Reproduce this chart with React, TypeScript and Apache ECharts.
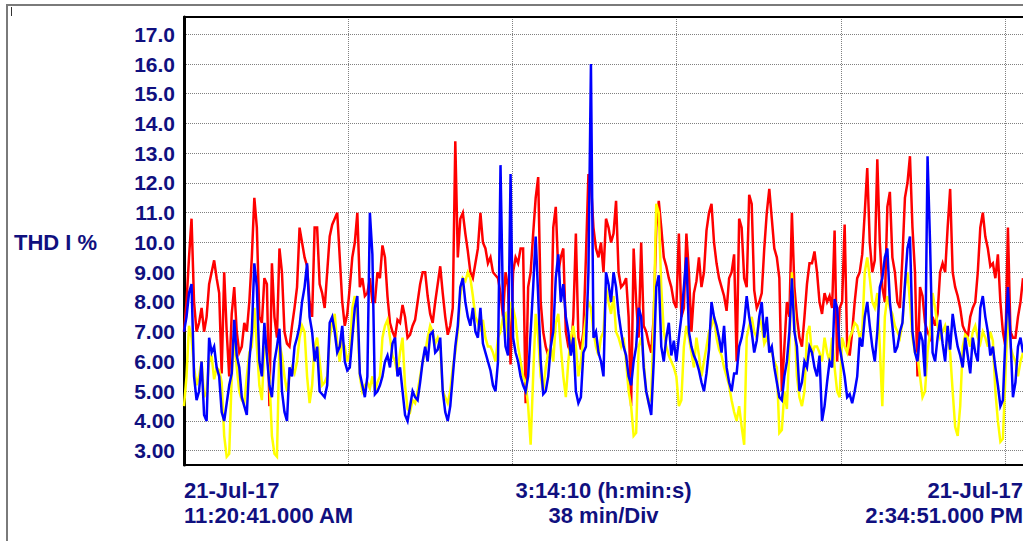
import React, { useEffect, useRef } from 'react';
import * as echarts from 'echarts';

// Time span 3:14:10 in minutes, 38 min per division
const TOTAL_MIN = 194 + 10 / 60;
const DIV_MIN = 38;

const yTicks = [3, 4, 5, 6, 7, 8, 9, 10, 11, 12, 13, 14, 15, 16, 17];
const xLabelValues = [0, TOTAL_MIN / 2, TOTAL_MIN];
const xLabelTexts = [
  '21-Jul-17\n11:20:41.000 AM',
  '3:14:10 (h:min:s)\n38 min/Div',
  '21-Jul-17\n2:34:51.000 PM',
];
const yAxisTitle = 'THD I %';

// Readings on the main sampling grid (168 samples)
const redA = [
  7.0, 9.5, 8.0, 7.3, 7.0, 8.6, 9.4, 8.3, 9.0, 5.5,
  8.5, 6.3, 7.3, 8.0, 11.5, 7.5, 8.8, 4.5, 7.5, 9.8,
  7.0, 6.5, 7.8, 10.5, 9.5, 8.0, 10.5, 8.6, 7.8, 10.2,
  10.8, 9.5, 7.2, 8.5, 10.0, 8.5, 8.2, 8.8, 8.0, 8.8,
  9.5, 7.3, 6.8, 7.3, 7.5, 6.9, 7.4, 8.6, 9.0, 7.6,
  8.0, 9.2, 7.5, 7.2, 13.4, 10.8, 10.3, 9.0, 9.3, 11.0,
  9.8, 9.5, 8.9, 8.3, 9.0, 5.9, 9.5, 9.8, 4.6, 9.0,
  11.5, 8.0, 6.5, 6.4, 11.2, 9.5, 7.0, 6.3, 10.3, 6.4,
  9.5, 12.0, 9.8, 10.0, 10.8, 10.0, 11.4, 8.5, 8.8, 4.5,
  8.0, 10.0, 7.0, 6.3, 10.5, 10.5, 9.2, 8.5, 7.8, 7.5,
  10.3, 7.0, 8.7, 8.5, 10.4, 11.3, 9.3, 8.5, 7.7, 9.0,
  6.0, 10.5, 8.5, 11.3, 7.8, 8.3, 11.0, 10.8, 9.5, 5.0,
  8.0, 11.0, 7.5, 6.5, 8.6, 9.3, 9.0, 7.6, 8.0, 7.8,
  6.0, 8.0, 6.5, 7.0, 8.8, 9.6, 12.5, 9.0, 12.8, 8.5,
  11.2, 9.5, 8.0, 9.5, 12.0, 10.5, 5.5, 8.2, 7.0, 7.5,
  7.6, 9.3, 10.5, 9.0, 8.2, 7.2, 6.8, 7.8, 9.0, 11.0,
  9.8, 9.3, 9.6, 7.0, 10.5, 6.8, 7.5, 8.8,
];
// Readings half-way between the samples above (167 values)
const redB = [
  8.0, 10.8, 7.0, 7.8, 7.5, 9.0, 8.8, 5.6, 7.0, 7.6,
  7.0, 6.5, 7.0, 9.5, 10.5, 7.3, 8.6, 9.3, 6.8, 9.0,
  6.6, 7.2, 8.5, 10.0, 9.2, 7.5, 10.5, 8.3, 9.0, 10.6,
  11.0, 8.0, 7.6, 9.5, 11.0, 8.8, 8.3, 8.0, 9.0, 9.9,
  8.2, 7.0, 7.4, 7.9, 6.8, 7.2, 8.0, 9.0, 8.2, 7.3,
  8.6, 8.3, 6.9, 7.8, 9.5, 11.0, 9.7, 8.8, 9.8, 10.0,
  9.3, 9.0, 8.8, 7.5, 8.5, 9.0, 9.3, 9.8, 8.5, 10.3,
  12.2, 7.0, 6.2, 10.5, 9.0, 9.8, 6.5, 7.5, 6.8, 7.0,
  12.3, 10.5, 9.5, 9.0, 10.5, 10.3, 9.0, 8.6, 7.5, 9.8,
  6.8, 7.2, 6.6, 7.5, 11.4, 9.5, 8.8, 8.0, 10.3, 7.8,
  9.0, 8.3, 9.5, 9.0, 11.0, 10.0, 8.8, 8.2, 8.8, 9.6,
  10.8, 8.8, 11.6, 8.4, 8.0, 9.8, 11.8, 9.8, 8.8, 6.5,
  7.5, 8.5, 6.8, 7.5, 9.3, 9.7, 8.0, 8.3, 8.2, 10.4,
  7.8, 10.6, 6.2, 8.0, 9.0, 11.0, 10.0, 9.4, 10.0, 8.0,
  11.7, 9.0, 7.8, 11.5, 12.9, 9.0, 8.5, 7.3, 6.8, 7.2,
  9.0, 9.0, 11.8, 8.5, 7.8, 7.0, 7.5, 8.0, 10.5, 10.2,
  9.2, 8.8, 8.0, 6.5, 7.0, 6.8, 8.0,
];

const yellowA = [
  4.5, 7.2, 5.8, 5.5, 4.8, 6.0, 5.4, 5.7, 3.5, 2.9,
  6.8, 5.0, 4.6, 6.3, 7.8, 5.2, 6.5, 5.5, 2.9, 6.6,
  5.5, 5.5, 5.6, 6.8, 7.0, 4.6, 6.5, 6.0, 5.3, 6.8,
  7.6, 6.0, 6.5, 6.3, 8.2, 5.5, 5.2, 5.1, 5.0, 5.5,
  7.2, 6.8, 6.0, 6.3, 5.2, 4.3, 4.6, 5.5, 6.3, 7.2,
  6.6, 6.5, 4.8, 5.0, 6.3, 8.2, 8.7, 8.8, 7.5, 7.0,
  6.8, 6.5, 6.0, 7.0, 7.6, 8.0, 7.4, 6.0, 5.3, 3.2,
  7.6, 5.5, 5.8, 6.5, 7.3, 6.5, 4.8, 6.8, 6.5, 6.0,
  7.5, 7.8, 6.5, 6.8, 8.5, 7.6, 7.0, 6.5, 6.0, 4.5,
  3.6, 6.8, 5.0, 4.8, 11.3, 8.5, 6.5, 6.0, 5.5, 4.7,
  7.2, 6.3, 6.8, 5.5, 6.5, 7.2, 6.8, 6.2, 5.5, 4.7,
  4.0, 3.8, 6.8, 7.5, 6.8, 7.2, 6.8, 6.3, 5.8, 3.7,
  4.4, 9.0, 5.5, 4.5, 6.9, 6.2, 6.5, 6.0, 6.3, 6.8,
  5.0, 6.8, 6.3, 7.0, 7.2, 7.0, 9.5, 8.0, 8.3, 4.5,
  8.2, 7.6, 7.0, 7.3, 9.0, 6.8, 6.2, 4.8, 6.3, 8.3,
  7.2, 7.0, 6.8, 5.0, 3.5, 6.5, 6.8, 7.0, 6.8, 7.0,
  6.5, 6.7, 4.0, 3.4, 7.8, 6.2, 5.5, 6.3,
];
const yellowB = [
  5.5, 6.8, 5.2, 6.0, 5.0, 6.2, 5.8, 5.3, 2.8, 5.5,
  5.8, 4.7, 5.5, 6.5, 6.5, 4.7, 6.3, 3.5, 2.8, 6.2,
  5.0, 5.8, 6.0, 7.2, 5.5, 5.2, 6.8, 5.2, 5.5, 7.3,
  6.6, 6.7, 6.0, 7.8, 7.5, 5.0, 5.3, 5.5, 5.3, 6.8,
  7.4, 6.2, 5.6, 6.8, 4.4, 4.7, 5.0, 6.0, 6.8, 7.0,
  6.8, 5.0, 4.6, 5.8, 7.0, 8.8, 9.0, 8.2, 7.3, 7.4,
  6.5, 6.3, 6.8, 7.5, 6.8, 7.8, 6.5, 5.5, 4.5, 5.5,
  6.8, 5.0, 6.3, 6.0, 7.6, 5.5, 6.0, 7.2, 5.5, 6.8,
  8.0, 7.0, 6.2, 7.0, 8.0, 8.2, 6.8, 6.8, 5.0, 3.5,
  6.5, 6.0, 4.6, 7.5, 11.0, 7.0, 6.2, 5.8, 4.5, 6.5,
  6.8, 5.8, 6.2, 6.0, 7.0, 7.5, 6.4, 5.8, 5.2, 4.3,
  4.5, 3.2, 7.2, 7.0, 7.5, 6.6, 6.5, 6.0, 3.6, 5.0,
  6.5, 7.5, 4.8, 5.0, 7.2, 6.5, 6.3, 6.8, 6.0, 5.8,
  4.8, 6.5, 6.8, 7.3, 6.8, 9.0, 8.8, 7.8, 6.5, 7.5,
  7.8, 7.2, 6.8, 8.5, 8.0, 6.3, 5.5, 5.0, 7.0, 7.8,
  6.8, 7.2, 6.3, 3.8, 4.5, 6.9, 6.5, 7.2, 6.6, 6.8,
  7.0, 5.0, 3.3, 5.5, 6.5, 6.0, 6.0,
];

const blueA = [
  7.0, 8.3, 5.5, 5.0, 4.2, 6.8, 6.5, 5.5, 4.0, 5.2,
  7.4, 5.8, 4.5, 6.0, 9.3, 6.0, 7.3, 5.2, 6.0, 7.1,
  4.3, 5.8, 6.5, 7.2, 8.5, 7.5, 6.0, 5.0, 4.8, 7.3,
  7.0, 6.5, 6.0, 5.8, 7.8, 5.6, 4.8, 11.0, 4.9, 5.2,
  6.0, 5.8, 6.8, 5.8, 4.2, 4.5, 4.8, 5.3, 6.5, 6.9,
  6.3, 6.8, 4.3, 4.5, 6.5, 8.5, 8.0, 7.2, 7.0, 7.8,
  6.3, 5.7, 5.0, 12.6, 6.5, 12.3, 6.3, 5.5, 5.0, 7.0,
  10.2, 6.0, 5.0, 6.5, 8.8, 8.0, 7.5, 6.2, 5.0, 4.8,
  6.5, 16.0, 7.0, 6.0, 9.0, 8.0, 8.5, 7.0, 6.2, 5.2,
  6.5, 7.5, 5.0, 4.2, 8.5, 6.5, 6.8, 6.2, 6.0, 7.5,
  9.5, 6.5, 6.0, 5.3, 5.6, 8.0, 7.2, 6.3, 5.8, 5.0,
  5.6, 6.8, 8.2, 7.0, 6.7, 8.0, 7.5, 6.5, 5.3, 4.7,
  6.0, 8.8, 6.5, 5.3, 5.8, 6.3, 5.5, 4.0, 5.3, 5.8,
  7.8, 6.0, 4.8, 4.6, 5.5, 6.5, 8.0, 6.5, 7.0, 8.8,
  9.8, 7.2, 6.5, 7.3, 9.8, 7.0, 6.0, 6.7, 12.9, 6.3,
  6.8, 6.6, 7.2, 7.6, 6.5, 5.8, 6.2, 6.8, 6.0, 8.2,
  7.0, 6.5, 5.2, 4.7, 8.5, 4.8, 6.5, 6.3,
];
const blueB = [
  7.5, 8.6, 4.7, 6.0, 4.0, 6.3, 5.8, 4.3, 4.6, 5.6,
  6.2, 4.8, 4.2, 7.0, 8.5, 5.5, 6.2, 4.8, 6.5, 5.0,
  4.0, 5.5, 6.8, 8.0, 9.3, 7.0, 6.5, 4.9, 5.2, 7.5,
  6.3, 7.2, 5.7, 6.8, 8.2, 5.2, 5.5, 9.6, 5.0, 5.5,
  6.2, 6.6, 5.5, 5.0, 4.0, 5.0, 4.7, 6.0, 6.0, 7.0,
  6.4, 5.0, 4.0, 5.5, 7.2, 8.8, 7.5, 7.8, 6.8, 6.6,
  6.0, 5.2, 6.0, 7.8, 6.2, 6.8, 6.0, 5.2, 5.5, 8.5,
  8.2, 4.9, 5.5, 7.0, 9.6, 8.6, 7.0, 6.8, 4.6, 6.3,
  9.0, 6.8, 6.3, 5.5, 8.6, 9.0, 7.6, 6.5, 5.5, 6.0,
  7.8, 5.8, 4.6, 6.0, 8.9, 6.0, 7.3, 6.7, 6.8, 8.5,
  7.0, 6.2, 5.7, 5.0, 6.4, 7.5, 6.8, 7.2, 5.3, 5.6,
  6.5, 7.3, 7.5, 6.3, 7.5, 6.8, 6.3, 5.8, 4.8, 5.5,
  7.0, 7.0, 5.0, 6.0, 6.5, 5.8, 6.2, 4.5, 6.0, 8.1,
  6.5, 5.5, 4.9, 5.0, 6.8, 7.5, 7.2, 6.0, 8.5, 9.5,
  8.0, 6.3, 7.0, 8.6, 10.2, 6.3, 7.0, 5.5, 10.0, 6.0,
  7.4, 6.0, 6.4, 7.0, 6.2, 6.8, 5.6, 6.3, 7.8, 7.5,
  6.2, 5.8, 4.5, 6.8, 6.8, 5.3, 6.8,
];

const TEXT_COLOR = '#10107f';
const FONT = "'Liberation Sans', Arial, sans-serif";

// Merge grid readings with the half-way readings, in time order
function mergeReadings(a: number[], b: number[]): number[] {
  const out: number[] = [];
  a.forEach((v, i) => {
    out.push(v);
    if (i < b.length) out.push(b[i]);
  });
  return out;
}

export default function App() {
  const ref = useRef<HTMLDivElement>(null);

  useEffect(() => {
    if (!ref.current) return;
    const chart = echarts.init(ref.current, null, { renderer: 'svg' });
    const toPairs = (arr: number[]) =>
      arr.map((v, i) => [(i * TOTAL_MIN) / (arr.length - 1), v]);

    const lineSeries = (name: string, data: number[], color: string) => ({
      name,
      type: 'line',
      data: toPairs(data),
      showSymbol: false,
      symbol: 'none',
      lineStyle: { color, width: 2.5, join: 'miter' },
      itemStyle: { color },
      silent: true,
    });

    const option: any = {
      animation: false,
      backgroundColor: '#ffffff',
      grid: {
        left: 184,
        top: 17,
        width: 839,
        height: 448,
        outerBoundsMode: 'none',
        containLabel: false,
      },
      xAxis: [
        {
          type: 'value',
          min: 0,
          max: TOTAL_MIN,
          interval: DIV_MIN,
          axisLine: { show: true, onZero: false, lineStyle: { color: '#000', width: 2 } },
          axisTick: { show: false },
          splitLine: { show: true, lineStyle: { color: '#808080', width: 1, type: [1, 1] } },
          axisLabel: {
            show: true,
            customValues: xLabelValues,
            formatter: (v: number) => {
              let best = 0;
              xLabelValues.forEach((x, i) => {
                if (Math.abs(x - v) < Math.abs(xLabelValues[best] - v)) best = i;
              });
              return xLabelTexts[best];
            },
            alignMinLabel: 'left',
            alignMaxLabel: 'right',
            showMinLabel: true,
            showMaxLabel: true,
            hideOverlap: false,
            margin: 13,
            color: TEXT_COLOR,
            fontFamily: FONT,
            fontWeight: 'bold',
            fontSize: 22,
            lineHeight: 25,
          },
        },
        {
          type: 'value',
          position: 'top',
          min: 0,
          max: TOTAL_MIN,
          axisLine: { show: true, onZero: false, lineStyle: { color: '#000', width: 2 } },
          axisTick: { show: false },
          axisLabel: { show: false },
          splitLine: { show: false },
        },
      ],
      yAxis: {
        type: 'value',
        min: 2.52,
        max: 17.58,
        axisLine: { show: true, onZero: false, lineStyle: { color: '#000', width: 3 } },
        axisTick: { show: false, customValues: yTicks },
        splitLine: { show: true, lineStyle: { color: '#808080', width: 1, type: [1, 1] } },
        axisLabel: {
          customValues: yTicks,
          formatter: (v: number) => (v >= 10 ? v.toFixed(1) : v.toFixed(2)),
          margin: 9,
          color: TEXT_COLOR,
          fontFamily: FONT,
          fontWeight: 'bold',
          fontSize: 21,
        },
      },
      graphic: [
        {
          type: 'polyline',
          shape: { points: [[7, 541], [7, 5], [1023, 5]] },
          style: { stroke: '#7a7a7a', lineWidth: 2, fill: 'none' },
          silent: true,
        },
        {
          type: 'line',
          shape: { x1: 11.5, y1: 7, x2: 11.5, y2: 16 },
          style: { stroke: '#333', lineWidth: 1 },
          silent: true,
        },
        {
          type: 'text',
          left: 14,
          top: 231,
          style: {
            text: yAxisTitle,
            fill: TEXT_COLOR,
            font: `bold 22px ${FONT}`,
          },
          silent: true,
        },
      ],
      series: [
        lineSeries('Red', mergeReadings(redA, redB), '#ff0000'),
        lineSeries('Yellow', mergeReadings(yellowA, yellowB), '#ffff00'),
        lineSeries('Blue', mergeReadings(blueA, blueB), '#0000ff'),
      ],
    };

    chart.setOption(option);
    return () => chart.dispose();
  }, []);

  return (
    <div
      ref={ref}
      style={{ position: 'fixed', left: 0, top: 0, width: 1023, height: 541, background: '#fff' }}
    />
  );
}
